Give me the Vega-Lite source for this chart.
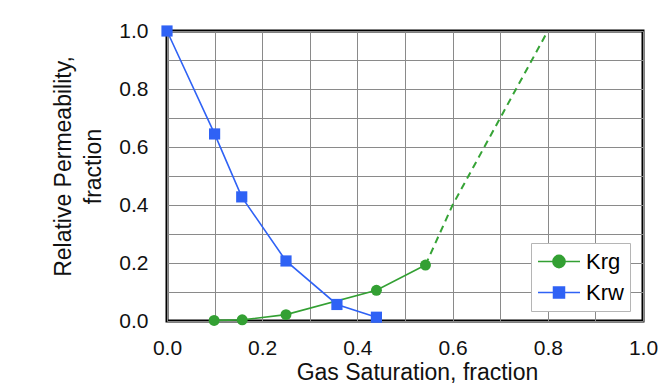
{
  "$schema": "https://vega.github.io/schema/vega-lite/v6.json",
  "width": 476,
  "height": 290,
  "autosize": "none",
  "padding": {"left": 167, "top": 31, "right": 20, "bottom": 67},
  "background": "white",
  "datasets": {
    "curves": [
      {"series": "Krw", "sg": 0.0, "kr": 1.0},
      {"series": "Krw", "sg": 0.1, "kr": 0.645},
      {"series": "Krw", "sg": 0.157, "kr": 0.428},
      {"series": "Krw", "sg": 0.25, "kr": 0.207},
      {"series": "Krw", "sg": 0.357, "kr": 0.057},
      {"series": "Krw", "sg": 0.44, "kr": 0.013},
      {"series": "Krg", "sg": 0.099, "kr": 0.002},
      {"series": "Krg", "sg": 0.158, "kr": 0.004},
      {"series": "Krg", "sg": 0.25, "kr": 0.022},
      {"series": "Krg", "sg": 0.44, "kr": 0.106},
      {"series": "Krg", "sg": 0.543, "kr": 0.193}
    ],
    "extrapolation": [
      {"sg": 0.543, "kr": 0.193},
      {"sg": 0.6, "kr": 0.4},
      {"sg": 0.7, "kr": 0.7},
      {"sg": 0.8, "kr": 1.0}
    ]
  },
  "encoding": {
    "x": {
      "field": "sg", "type": "quantitative",
      "scale": {"domain": [0, 1], "nice": false, "zero": false},
      "axis": {
        "title": "Gas Saturation, fraction",
        "values": [0, 0.1, 0.2, 0.3, 0.4, 0.5, 0.6, 0.7, 0.8, 0.9, 1.0],
        "labelExpr": "round(datum.value * 10) % 2 == 0 ? format(datum.value, '.1f') : ''",
        "labelFlush": false,
        "labelOverlap": false,
        "titleX": 250,
        "titleY": 51,
        "titleBaseline": "middle",
        "labelPadding": 16
      }
    },
    "y": {
      "field": "kr", "type": "quantitative",
      "scale": {"domain": [0, 1], "nice": false, "zero": false},
      "axis": {
        "title": ["Relative Permeability,", "fraction"],
        "values": [0, 0.1, 0.2, 0.3, 0.4, 0.5, 0.6, 0.7, 0.8, 0.9, 1.0],
        "labelExpr": "round(datum.value * 10) % 2 == 0 ? format(datum.value, '.1f') : ''",
        "labelFlush": false,
        "labelOverlap": false,
        "titleX": -104,
        "titleY": 135,
        "titleAngle": -90,
        "titleAlign": "center",
        "titleBaseline": "middle",
        "titleLineHeight": 30,
        "labelPadding": 19
      }
    }
  },
  "layer": [
    {
      "data": {"name": "extrapolation"},
      "mark": {"type": "line", "color": "#36a336", "strokeWidth": 2, "strokeDash": [7, 5], "clip": true},
      "encoding": {}
    },
    {
      "data": {"name": "curves"},
      "mark": {"type": "line", "strokeWidth": 1.6},
      "encoding": {
        "color": {
          "field": "series", "type": "nominal",
          "scale": {"domain": ["Krg", "Krw"], "range": ["#33a033", "#2f62f5"]},
          "legend": {
            "orient": "none",
            "legendX": 364,
            "legendY": 212,
            "title": null,
            "strokeColor": "#b5b5b5",
            "fillColor": "white",
            "padding": 6,
            "symbolSize": 1764,
            "clipHeight": 25,
            "rowPadding": 6,
            "labelOffset": 5,
            "labelFont": "Liberation Sans",
            "labelFontSize": 22,
            "labelColor": "black",
            "encode": {
              "symbols": {
                "update": {
                  "shape": {"signal": "datum.value == 'Krg' ? 'M-1,0H1M0.29,0A0.29,0.29,0,1,1,-0.29,0A0.29,0.29,0,1,1,0.29,0Z' : 'M-1,0H1M-0.26,-0.26H0.26V0.26H-0.26Z'"},
                  "fill": {"signal": "datum.value == 'Krg' ? '#2e9e30' : '#2b5ff8'"},
                  "stroke": {"signal": "datum.value == 'Krg' ? '#33a033' : '#2f62f5'"},
                  "strokeWidth": {"value": 1.6},
                  "opacity": {"value": 1},
                  "fillOpacity": {"value": 1}
                }
              }
            }
          }
        },
        "detail": {"field": "series"}
      }
    },
    {
      "data": {"name": "curves"},
      "transform": [{"filter": "datum.series == 'Krg'"}],
      "mark": {"type": "point", "shape": "circle", "filled": true, "opacity": 1, "size": 120},
      "encoding": {
        "color": {"field": "series", "type": "nominal", "legend": null}
      }
    },
    {
      "data": {"name": "curves"},
      "transform": [{"filter": "datum.series == 'Krw'"}],
      "mark": {"type": "point", "shape": "square", "filled": true, "opacity": 1, "size": 125},
      "encoding": {
        "color": {"field": "series", "type": "nominal", "legend": null}
      }
    }
  ],
  "config": {
    "view": {"stroke": "black", "strokeWidth": 3},
    "axis": {
      "domain": false,
      "ticks": false,
      "grid": true,
      "gridColor": "#8a8a8a",
      "gridWidth": 1,
      "gridOpacity": 1,
      "labelFont": "Liberation Sans",
      "labelFontSize": 21,
      "labelColor": "#111",
      "titleFont": "Liberation Sans",
      "titleFontSize": 23,
      "titleFontWeight": "normal",
      "titleColor": "#111"
    }
  }
}
